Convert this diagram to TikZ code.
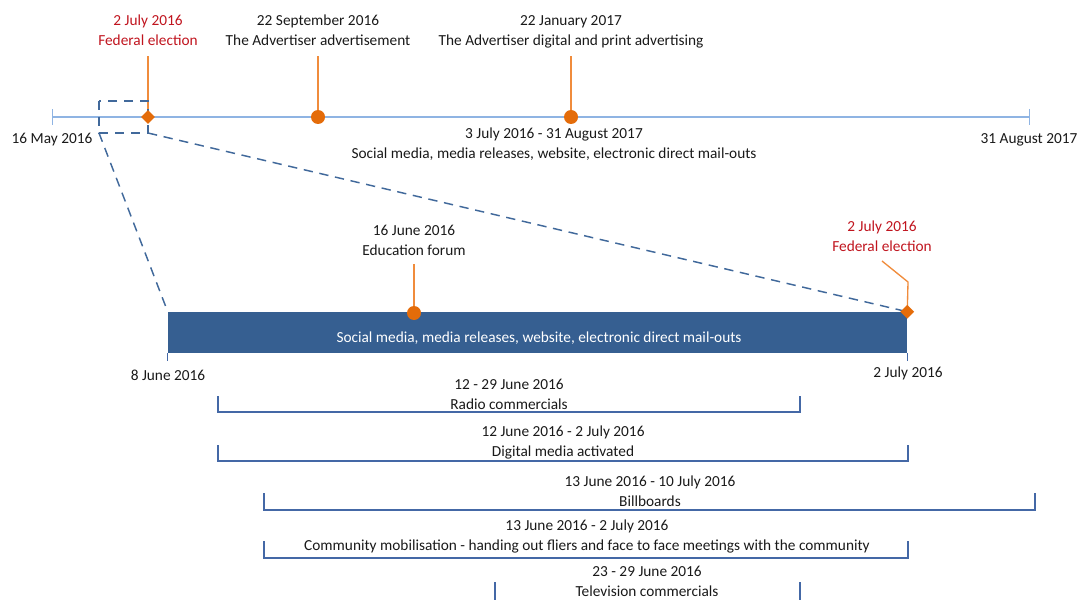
\documentclass[tikz,border=0pt]{standalone}
\usepackage{fontspec}
\setmainfont{Carlito}
\usepackage{xcolor}
\usepackage{tikz}
\usetikzlibrary{shapes.geometric,arrows.meta,backgrounds,positioning}

\definecolor{axisblue}{RGB}{143,180,227}
\definecolor{stemorange}{RGB}{240,140,60}
\definecolor{markorange}{RGB}{228,108,10}
\definecolor{electred}{RGB}{192,20,30}
\definecolor{barblue}{RGB}{54,95,145}
\definecolor{zoomblue}{RGB}{65,105,155}
\definecolor{bracketblue}{RGB}{68,104,166}
\definecolor{inkgray}{RGB}{25,25,25}

\begin{document}
\begin{tikzpicture}[
    x=0.75pt, y=-0.75pt,
    font=\fontsize{11.5}{15}\selectfont,
    lbl/.style={align=center, text=inkgray},
    redlbl/.style={align=center, text=electred},
    dot/.style={circle, fill=markorange, inner sep=0pt, minimum size=10.5pt},
    gem/.style={diamond, fill=markorange, inner sep=0pt, minimum size=10.5pt},
    stem/.style={draw=stemorange, line width=1pt},
    zoomline/.style={draw=zoomblue, line width=1.1pt, dash pattern=on 7pt off 5pt},
    bracket/.style={draw=bracketblue, line width=1pt}
]
\useasboundingbox (0,0) rectangle (1080,599);

% overall period, 16 May 2016 - 31 August 2017
\coordinate (start) at (52,117);
\coordinate (end) at (1030,117);
\node[lbl] (startlbl) at (52,140) {16 May 2016};
\node[lbl] (endlbl) at (1029,140) {31 August 2017};
\node[gem] (elect) at (148,117) {};
\node[dot] (advert) at (318,117) {};
\node[dot] (digital) at (571,117) {};
\node[redlbl] (electlbl) at (148,30.5) {2 July 2016\\Federal election};
\node[lbl] (advertlbl) at (318,30.5) {22 September 2016\\The Advertiser advertisement};
\node[lbl] (digitallbl) at (571,31.5) {22 January 2017\\The Advertiser digital and print advertising};
\node[lbl] (ongoing) at (554,144) {3 July 2016 - 31 August 2017\\Social media, media releases, website, electronic direct mail-outs};
\coordinate (electtop) at (148,56);
\coordinate (adverttop) at (318,56);
\coordinate (digitaltop) at (571,56);
\coordinate (zoomsw) at (99,133);
\coordinate (zoomse) at (148,133);

% campaign period, 8 June - 2 July 2016
\node[fill=barblue, inner sep=0pt, minimum width=554.25pt, minimum height=30.75pt] (bar) at (537.5,332.5) {};
\node[text=white] (bartext) at (539,338.5) {Social media, media releases, website, electronic direct mail-outs};
\node[dot] (forum) at (414,313) {};
\node[gem] (elect2) at (bar.north east) {};
\node[lbl] (forumlbl) at (414,240.5) {16 June 2016\\Education forum};
\node[redlbl] (elect2lbl) at (882,236) {2 July 2016\\Federal election};
\node[lbl] (barstart) at (168,375) {8 June 2016};
\node[lbl] (barend) at (908,373) {2 July 2016};
\coordinate (forumtop) at (414,264);
\coordinate (elect2bend) at (908,282);
\coordinate (elect2top) at (882,261);

\begin{scope}[on background layer]
\draw[axisblue, line width=1pt, {Bar[width=12pt]}-{Bar[width=12pt]}] (start) -- (end);
\draw[stem] (elect.center) -- (electtop);
\draw[stem] (advert.center) -- (adverttop);
\draw[stem] (digital.center) -- (digitaltop);
\draw[stem] (forum.center) -- (forumtop);
\draw[stem] (elect2.center) -- (elect2bend) -- (elect2top);
\draw[zoomline] (99,101) rectangle (zoomse);
\draw[zoomline] (zoomsw) -- (bar.north west);
\draw[zoomline] (zoomse) -- (elect2.center);
\draw[bracket] (bar.south west) -- ++(0,8);
\draw[bracket] (bar.south east) -- ++(0,8);
\end{scope}

% activities
\node[lbl] (radio) at (509,394) {12 - 29 June 2016\\Radio commercials};
\draw[bracket] (218,396) |- (800,412) -- (800,396);
\node[lbl] (online) at (563,442.5) {12 June 2016 - 2 July 2016\\Digital media activated};
\draw[bracket] (218,445) |- (908,461) -- (908,445);
\node[lbl] (billboard) at (650,491.5) {13 June 2016 - 10 July 2016\\Billboards};
\draw[bracket] (264,493) |- (1035,510) -- (1035,493);
\node[lbl] (community) at (587,536.5) {13 June 2016 - 2 July 2016\\Community mobilisation - handing out fliers and face to face meetings with the community};
\draw[bracket] (264,541) |- (908,558) -- (908,541);
\node[lbl, inner sep=0.5pt] (tv) at (647,581.5) {23 - 29 June 2016\\Television commercials};
\begin{scope}
\clip (0,0) rectangle (1080,599);
\draw[bracket] (495,582) |- (800,606) -- (800,582);
\end{scope}
\end{tikzpicture}
\end{document}
